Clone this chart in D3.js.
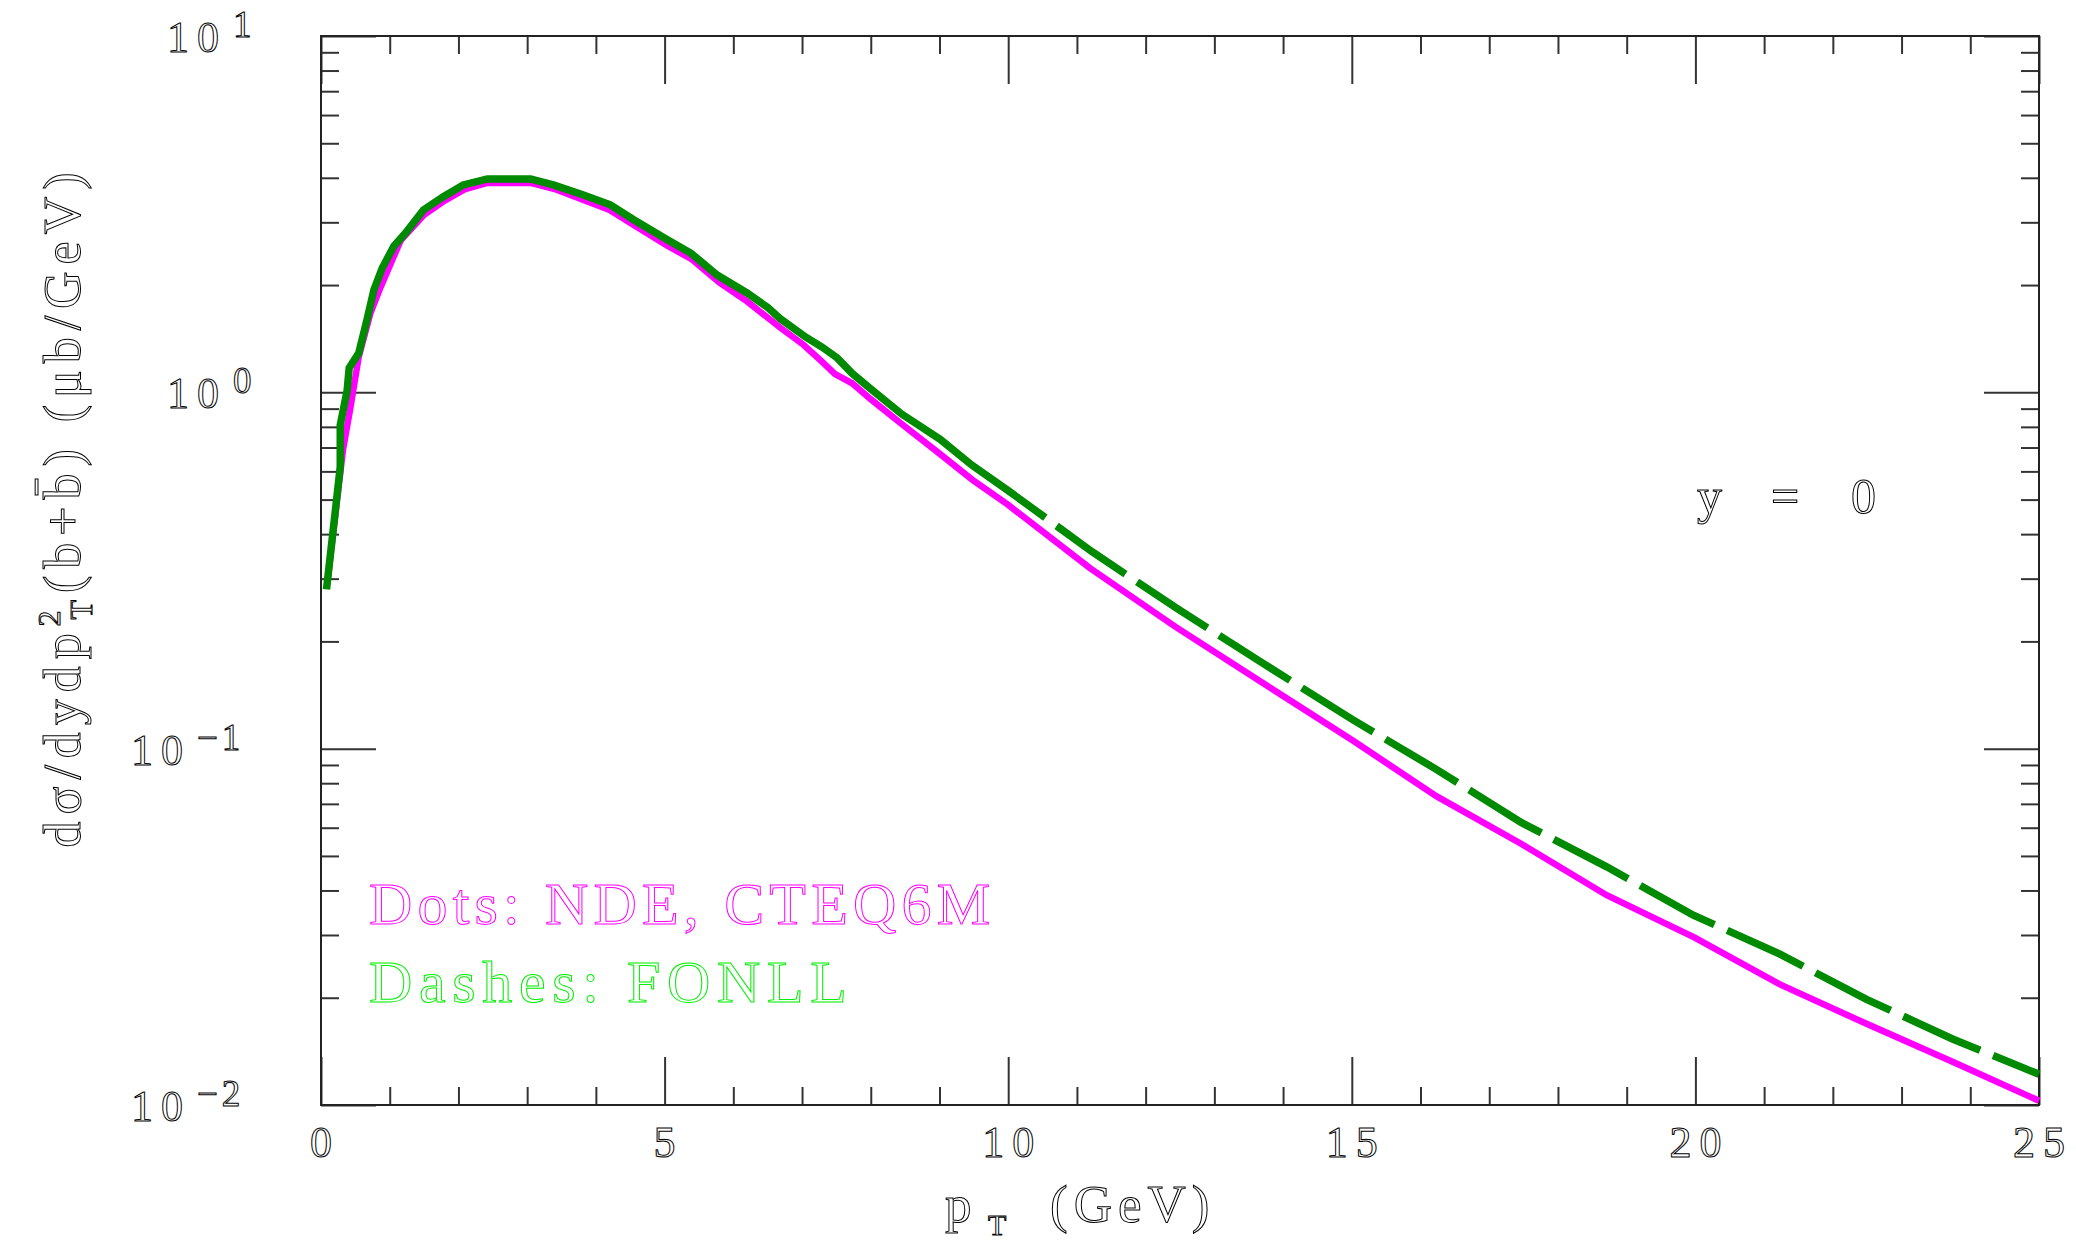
<!DOCTYPE html>
<html>
<head>
<meta charset="utf-8">
<script src="https://cdn.jsdelivr.net/npm/d3@7"></script>
<style>
  html, body { margin: 0; padding: 0; background: #fff; }
  svg { display: block; }
</style>
</head>
<body>
<svg id="chart" width="2076" height="1247"></svg>
<script>
// ---------------- data ----------------
// FONLL (green, dashes)
const fonllPt = [0.08, 0.21, 0.28, 0.28, 0.38, 0.41, 0.55, 0.67, 0.77, 0.89, 1.06, 1.23, 1.49, 1.78, 2.07, 2.42, 3.05, 3.38, 3.82, 4.21, 4.55, 5.04, 5.38, 5.77, 6.2, 6.5, 6.68, 7.05, 7.29, 7.51, 7.73, 7.99, 8.45, 9.01, 9.47, 10.0, 11.22, 12.45, 13.72, 15.0, 16.23, 17.47, 18.71, 19.97, 21.23, 22.49, 23.75, 25.0];
const fonllVal = [0.280, 0.468, 0.618, 0.809, 1.01, 1.17, 1.29, 1.60, 1.94, 2.23, 2.57, 2.80, 3.25, 3.54, 3.82, 3.97, 3.97, 3.82, 3.58, 3.36, 3.05, 2.68, 2.46, 2.13, 1.90, 1.73, 1.61, 1.43, 1.34, 1.25, 1.13, 1.026, 0.869, 0.738, 0.625, 0.530, 0.357, 0.248, 0.173, 0.121, 0.0875, 0.0620, 0.0466, 0.0341, 0.0265, 0.0198, 0.0153, 0.0122];
// NDE, CTEQ6M (magenta, "dots")
const ndePt = [0.09, 0.32, 0.43, 0.55, 0.72, 0.87, 1.16, 1.5, 1.8, 2.1, 2.42, 3.05, 3.4, 3.8, 4.2, 4.55, 5.04, 5.4, 5.8, 6.2, 6.68, 7.02, 7.27, 7.48, 7.73, 7.99, 8.45, 9.01, 9.48, 10.0, 11.19, 12.43, 13.7, 15.02, 16.23, 17.47, 18.71, 19.99, 21.23, 22.49, 23.75, 25.0];
const ndeVal = [0.29, 0.69, 0.91, 1.26, 1.67, 1.98, 2.67, 3.15, 3.45, 3.72, 3.87, 3.87, 3.72, 3.48, 3.25, 2.95, 2.58, 2.36, 2.03, 1.80, 1.52, 1.36, 1.23, 1.125, 1.06, 0.96, 0.815, 0.671, 0.568, 0.483, 0.321, 0.220, 0.153, 0.1052, 0.0736, 0.0540, 0.0388, 0.0295, 0.0218, 0.0169, 0.0132, 0.01028];

const xMajorTicks = [0, 5, 10, 15, 20, 25];
const xTickLabels = ["0", "5", "10", "15", "20", "25"];
const xMinorTicks = [1, 2, 3, 4, 6, 7, 8, 9, 11, 12, 13, 14, 16, 17, 18, 19, 21, 22, 23, 24];
const yMajorTicks = [0.01, 0.1, 1, 10];
const yTickExponents = ["−2", "−1", "0", "1"];
const legendLines = ["Dots: NDE, CTEQ6M", "Dashes: FONLL"];
const dashStartPt = 10.54;

// ---------------- layout ----------------
const svg = d3.select("#chart");
const X0 = 321, X1 = 2039, Y0 = 1105, Y1 = 36;
const x = d3.scaleLinear().domain([0, 25]).range([X0, X1]);
const y = d3.scaleLog().domain([0.01, 10]).range([Y0, Y1]);

const yMinorTicks = [];
[0.01, 0.1, 1].forEach(d => { for (let k = 2; k <= 9; k++) yMinorTicks.push(d * k); });

const tickColor = "#333";
function styleAxis(g) {
  g.select(".domain").remove();
  g.selectAll(".tick line").attr("stroke", tickColor).attr("stroke-width", 2);
  g.selectAll(".tick text").remove();
}
// bottom
svg.append("g").attr("transform", `translate(0,${Y0})`)
  .call(d3.axisBottom(x).tickValues(xMinorTicks).tickSize(-18).tickFormat("")).call(styleAxis);
svg.append("g").attr("transform", `translate(0,${Y0})`)
  .call(d3.axisBottom(x).tickValues(xMajorTicks).tickSize(-48).tickFormat("")).call(styleAxis);
// top
svg.append("g").attr("transform", `translate(0,${Y1})`)
  .call(d3.axisTop(x).tickValues(xMinorTicks).tickSize(-18).tickFormat("")).call(styleAxis);
svg.append("g").attr("transform", `translate(0,${Y1})`)
  .call(d3.axisTop(x).tickValues(xMajorTicks).tickSize(-48).tickFormat("")).call(styleAxis);
// left
svg.append("g").attr("transform", `translate(${X0},0)`)
  .call(d3.axisLeft(y).tickValues(yMinorTicks).tickSize(-18).tickFormat("")).call(styleAxis);
svg.append("g").attr("transform", `translate(${X0},0)`)
  .call(d3.axisLeft(y).tickValues(yMajorTicks).tickSize(-55).tickFormat("")).call(styleAxis);
// right
svg.append("g").attr("transform", `translate(${X1},0)`)
  .call(d3.axisRight(y).tickValues(yMinorTicks).tickSize(-18).tickFormat("")).call(styleAxis);
svg.append("g").attr("transform", `translate(${X1},0)`)
  .call(d3.axisRight(y).tickValues(yMajorTicks).tickSize(-55).tickFormat("")).call(styleAxis);

// frame
svg.append("rect").attr("x", X0).attr("y", Y1).attr("width", X1 - X0).attr("height", Y0 - Y1)
  .attr("fill", "none").attr("stroke", "#222").attr("stroke-width", 2);

// outlined text style
const FONT = "'Liberation Serif', 'DejaVu Serif', serif";
function outline(sel, color) {
  return sel.attr("font-family", FONT).attr("fill", "none")
    .attr("stroke", color || "#000").attr("stroke-width", 1);
}

// x tick labels
svg.append("g").selectAll("text").data(xMajorTicks).join("text")
  .attr("x", d => x(d) + 4).attr("y", 1157)
  .attr("text-anchor", "middle").attr("font-size", 44).attr("letter-spacing", 8)
  .text((d, i) => xTickLabels[i]).call(outline);

// y tick labels 10^n
const yl = svg.append("g").selectAll("text").data(yMajorTicks).join("text")
  .attr("y", d => y(d) + 16).call(outline);
yl.each(function (d, i) {
  const neg = yTickExponents[i].length > 1;
  const t = d3.select(this);
  const x0 = neg ? 131 : 167;
  t.append("tspan").attr("x", x0).attr("font-size", 44).attr("letter-spacing", 8).text("10");
  t.append("tspan").attr("x", x0 + 66).attr("dy", -15).attr("font-size", 37).attr("letter-spacing", 4).text(yTickExponents[i]);
});

// x axis title
const xt = svg.append("text").attr("y", 1222).call(outline);
xt.append("tspan").attr("x", 945).attr("font-size", 53).text("p");
xt.append("tspan").attr("x", 988).attr("dy", 13).attr("font-size", 30).text("T");
xt.append("tspan").attr("x", 1050).attr("dy", -13).attr("font-size", 53).attr("letter-spacing", 6).text("(GeV)");

// y axis title (rotated)
const yt = svg.append("text")
  .attr("transform", "translate(80,510) rotate(-90)")
  .attr("text-anchor", "middle").attr("font-size", 52)
  .attr("textLength", 675).attr("lengthAdjust", "spacing").call(outline);
yt.append("tspan").text("dσ/dydp");
yt.append("tspan").attr("font-size", 32).attr("dy", -20).text("2");
yt.append("tspan").attr("font-size", 32).attr("dx", -16).attr("dy", 32).text("T");
yt.append("tspan").attr("dy", -12).text("(b+b\u0304) (μb/GeV)");

// y = 0 label
const yz = svg.append("text").attr("y", 513).attr("font-size", 50).call(outline);
yz.append("tspan").attr("x", 1697).text("y");
yz.append("tspan").attr("x", 1771).text("=");
yz.append("tspan").attr("x", 1851).text("0");

// legend
svg.append("text").attr("x", 369).attr("y", 924).attr("font-size", 60)
  .attr("textLength", 621).attr("lengthAdjust", "spacing")
  .text(legendLines[0]).call(outline, "#ff00ff");
svg.append("text").attr("x", 369).attr("y", 1002).attr("font-size", 60)
  .attr("textLength", 478).attr("lengthAdjust", "spacing")
  .text(legendLines[1]).call(outline, "#00ee00");

// curves
const line = d3.line().x(d => x(d[0])).y(d => y(d[1]));
const ndeData = ndePt.map((p, i) => [p, ndeVal[i]]);
const fonllData = fonllPt.map((p, i) => [p, fonllVal[i]]);

svg.append("path").attr("d", line(ndeData))
  .attr("fill", "none").attr("stroke", "#ff00ff").attr("stroke-width", 6.5)
  .attr("stroke-linejoin", "miter");

const gp = svg.append("path").attr("d", line(fonllData))
  .attr("fill", "none").attr("stroke", "#008a00").attr("stroke-width", 7.5)
  .attr("stroke-linejoin", "miter");

// dashed beyond dashStartPt
const node = gp.node();
const total = node.getTotalLength();
const targetX = x(dashStartPt);
let lo = 0, hi = total;
for (let k = 0; k < 40; k++) {
  const mid = (lo + hi) / 2;
  if (node.getPointAtLength(mid).x < targetX) lo = mid; else hi = mid;
}
const dashes = [lo];
let acc = lo;
while (acc < total + 200) { dashes.push(14, 84); acc += 98; }
if (dashes.length % 2) dashes.push(14);
gp.attr("stroke-dasharray", dashes.join(" "));
</script>
</body>
</html>
